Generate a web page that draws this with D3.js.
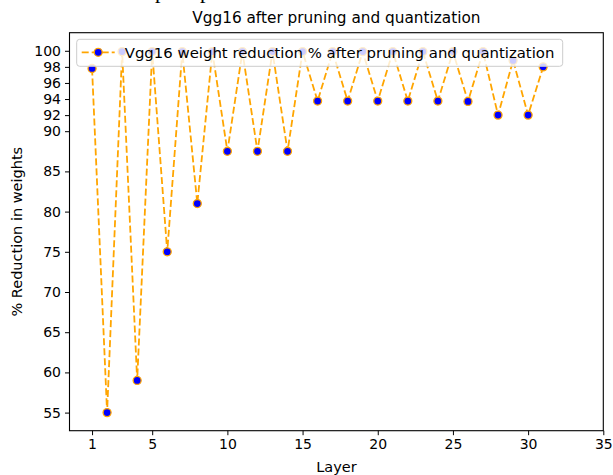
<!DOCTYPE html>
<html>
<head>
<meta charset="utf-8">
<script src="https://cdn.jsdelivr.net/npm/d3@7"></script>
<style>
  body { margin: 0; background: #fff; }
  svg { display: block; font-family: "DejaVu Sans", sans-serif; }
</style>
</head>
<body>
<svg width="613" height="475"></svg>
<script>
// Layer numbers and % reduction in weights
var layers = [1, 2, 3, 4, 5, 6, 7, 8, 9, 10, 11, 12, 13, 14, 15, 16,
              17, 18, 19, 20, 21, 22, 23, 24, 25, 26, 27, 28, 29, 30, 31];
var reduction = [97.8, 55, 99.9, 59, 99.9, 75, 99.9, 81, 99.9, 87.5, 99.9, 87.5, 99.9, 87.5, 99.9, 93.75,
                 99.9, 93.75, 99.9, 93.75, 99.9, 93.75, 99.9, 93.75, 99.9, 93.7, 99.9, 92, 98.8, 92, 98];
var xTicks = [1, 5, 10, 15, 20, 25, 30, 35];
var yTicks = [55, 60, 65, 70, 75, 80, 85, 90, 92, 94, 96, 98, 100];
var seriesName = "Vgg16 weight reduction % after pruning and quantization";

var data = layers.map(function (l, i) { return { layer: l, value: reduction[i] }; });

var margin = { top: 32.7, right: 9.7, bottom: 44.3, left: 69.5 },
    width = 613 - margin.left - margin.right,
    height = 475 - margin.top - margin.bottom;

var svg = d3.select("svg");

// cut-off text from whatever sat above the figure
svg.append("text")
    .attr("x", 155).attr("y", -2)
    .style("font-family", "'Liberation Serif', serif")
    .style("font-size", "22px")
    .text("p");
svg.append("text")
    .attr("x", 200).attr("y", -2)
    .style("font-family", "'Liberation Serif', serif")
    .style("font-size", "22px")
    .text("p");

var g = svg.append("g")
    .attr("transform", "translate(" + margin.left + "," + margin.top + ")");

var xScale = d3.scaleLinear().domain([-0.5, 35]).range([0, width]);
var yScale = d3.scaleLinear().domain([52.75, 102.25]).range([height, 0]);

var xAxis = d3.axisBottom(xScale).tickValues(xTicks).tickSize(4.5).tickPadding(4).tickFormat(d3.format("d"));
var yAxis = d3.axisLeft(yScale).tickValues(yTicks).tickSize(4.5).tickPadding(4).tickFormat(d3.format("d"));

var line = d3.line()
    .x(function (d) { return xScale(d.layer); })
    .y(function (d) { return yScale(d.value); });

g.append("path")
    .datum(data)
    .attr("fill", "none")
    .attr("stroke", "orange")
    .attr("stroke-width", 1.8)
    .attr("stroke-dasharray", "7,3")
    .attr("d", line);

g.selectAll(".pt")
    .data(data)
    .enter().append("circle")
    .attr("class", "pt")
    .attr("cx", function (d) { return xScale(d.layer); })
    .attr("cy", function (d) { return yScale(d.value); })
    .attr("r", 4)
    .attr("fill", "blue")
    .attr("stroke", "orange")
    .attr("stroke-width", 1.3);

// axes
var gx = g.append("g")
    .attr("transform", "translate(0," + height + ")")
    .call(xAxis);
var gy = g.append("g").call(yAxis);

[gx, gy].forEach(function (a) {
    a.select(".domain").remove();
    a.selectAll("line").attr("stroke", "#000").attr("stroke-width", 1);
    a.selectAll("text").style("font-size", "14px").style("font-family", "'DejaVu Sans', sans-serif").attr("fill", "#000");
});

// spines
g.append("rect")
    .attr("width", width).attr("height", height)
    .attr("fill", "none").attr("stroke", "#000").attr("stroke-width", 1.1);

// legend
var leg = g.append("g").attr("transform", "translate(" + (76.7 - margin.left) + "," + (39.3 - margin.top) + ")");
leg.append("rect")
    .attr("width", 486).attr("height", 27).attr("rx", 3)
    .attr("fill", "#fff").attr("fill-opacity", 0.8)
    .attr("stroke", "#cccccc").attr("stroke-width", 1);
leg.append("line")
    .attr("x1", 5).attr("x2", 38).attr("y1", 13).attr("y2", 13)
    .attr("stroke", "orange").attr("stroke-width", 1.8).attr("stroke-dasharray", "7,3");
leg.append("circle")
    .attr("cx", 21.5).attr("cy", 13).attr("r", 4)
    .attr("fill", "blue").attr("stroke", "orange").attr("stroke-width", 1.3);
leg.append("text")
    .attr("x", 48).attr("y", 13).attr("dy", "0.35em")
    .style("font-size", "14.9px")
    .text(seriesName);

// title and labels
svg.append("text")
    .attr("x", margin.left + width / 2).attr("y", 23)
    .attr("text-anchor", "middle")
    .style("font-size", "15.3px")
    .text("Vgg16 after pruning and quantization");

svg.append("text")
    .attr("x", margin.left + width / 2).attr("y", 472)
    .attr("text-anchor", "middle")
    .style("font-size", "14.5px")
    .text("Layer");

svg.append("text")
    .attr("transform", "translate(22," + (margin.top + height / 2) + ") rotate(-90)")
    .attr("text-anchor", "middle")
    .style("font-size", "14.5px")
    .text("% Reduction in weights");
</script>
</body>
</html>
